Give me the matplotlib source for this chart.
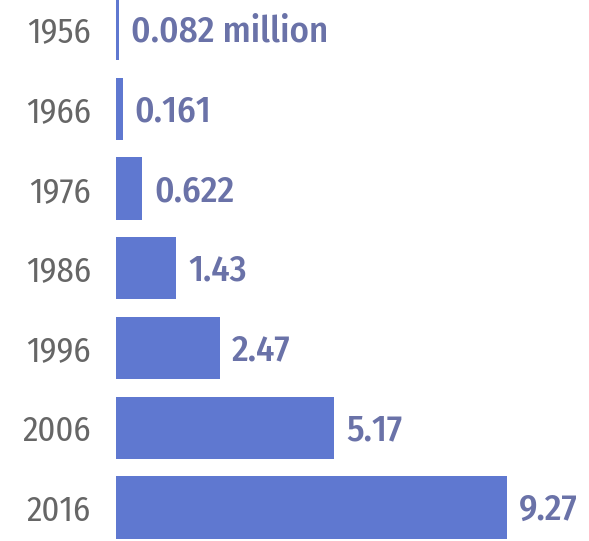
import matplotlib
matplotlib.use("Agg")
import matplotlib.pyplot as plt
from matplotlib import font_manager

years = ["1956", "1966", "1976", "1986", "1996", "2006", "2016"]
values = [0.082, 0.161, 0.622, 1.43, 2.47, 5.17, 9.27]
labels = ["0.082 million", "0.161", "0.622", "1.43", "2.47", "5.17", "9.27"]

names = {f.name for f in font_manager.fontManager.ttflist}
fam = "DejaVu Sans"
for cand in ["Fira Sans Condensed", "PT Sans Narrow", "Roboto Condensed",
             "Open Sans Condensed", "Encode Sans Condensed", "Barlow Semi Condensed"]:
    if cand in names:
        fam = cand
        break

W, H = 589, 541
fig = plt.figure(figsize=(W / 100, H / 100), dpi=100)
left_px = 116
px_per_unit = 42.2
xmax = (W - left_px) / px_per_unit
ax = fig.add_axes([left_px / W, 0, 1 - left_px / W, 1])

pos = list(range(len(years)))
ax.barh(pos, values, height=0.78, color="#5f78d0")
ax.set_xlim(0, xmax)
y0, sp = 29, 79.75
ax.set_ylim((H - y0) / sp, (0 - y0) / sp)

for p, v, lab in zip(pos, values, labels):
    ax.annotate(lab, (v, p), xytext=(8.5, -2), textcoords="offset points",
                va="center", ha="left", fontsize=26.5, fontweight="medium",
                color="#6a72a8", family=fam)

ax.set_yticks(pos)
ax.set_yticklabels(years, fontsize=25, color="#666666", family=fam)
ax.tick_params(axis="y", length=0, pad=18)
ax.set_xticks([])
for s in ax.spines.values():
    s.set_visible(False)

fig.savefig("out.png", dpi=100)
